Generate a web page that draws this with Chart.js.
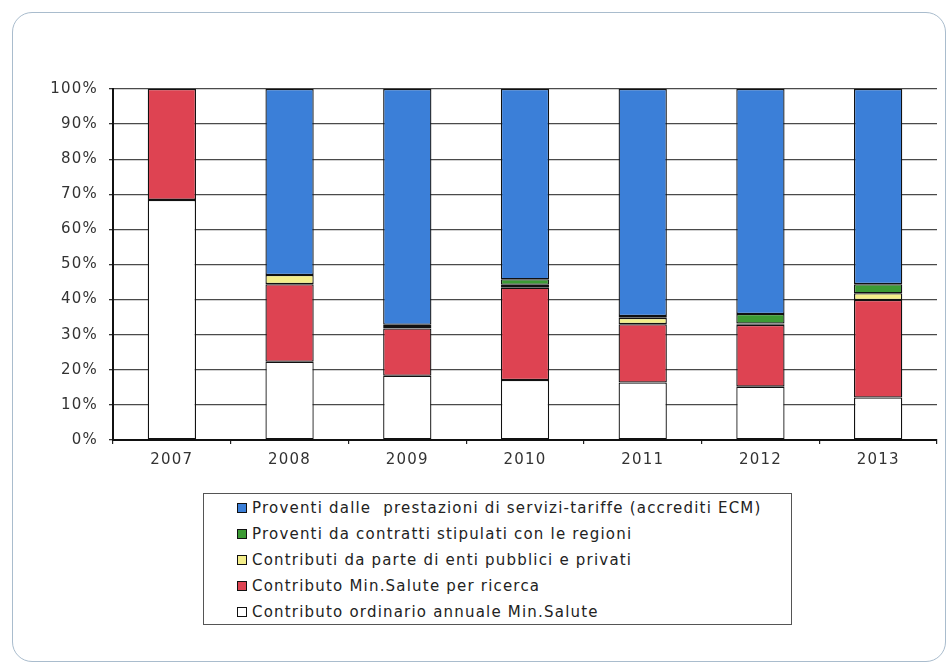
<!DOCTYPE html>
<html lang="it">
<head>
<meta charset="utf-8">
<title>Composizione delle entrate 2007-2013</title>
<script src="https://cdn.jsdelivr.net/npm/chart.js@4.4.1/dist/chart.umd.min.js"></script>
<style>
    html, body { margin: 0; padding: 0; background: #fff; }
    body { width: 951px; height: 667px; position: relative; overflow: hidden; font-family: "DejaVu Sans", Verdana, sans-serif; }
    #frame {
        position: absolute; left: 12px; top: 12px; width: 934px; height: 650px;
        border: 1px solid #a9bccd; border-radius: 20px; box-sizing: border-box;
    }
    #chartBox { position: absolute; left: 0; top: 0; width: 951px; height: 480px; }
    #legend {
        position: absolute; left: 203px; top: 493px; width: 589px; height: 132px;
        border: 1.5px solid #555; box-sizing: border-box; padding-top: 1px;
    }
    #legend ul { list-style: none; margin: 0; padding: 0; }
    #legend li {
        height: 26px; display: flex; align-items: center; padding-left: 33px;
        font-size: 15px; letter-spacing: 1.2px; color: #222; white-space: pre;
    }
    #legend .sw {
        width: 8px; height: 8px; border: 1.5px solid #111; margin-right: 5px; flex: none;
    }
</style>
</head>
<body>
<div id="frame"></div>
<div id="chartBox"><canvas id="chartEntrate"></canvas></div>
<div id="legend"></div>

<script>
// ===== Dati (percentuali) =====
const anni = ['2007', '2008', '2009', '2010', '2011', '2012', '2013'];

const contributoOrdinario = [68.4, 22.3, 18.3, 17.1, 16.4, 15.2, 12.1];
const contributoRicerca   = [31.6, 22.1, 13.5, 26.3, 16.6, 17.6, 27.8];
const contributiEnti      = [0, 2.6, 0.4, 0.8, 1.8, 0.4, 1.9];
const proventiRegioni     = [0, 0, 0.6, 1.6, 0.5, 2.7, 2.6];
const proventiTariffe     = [0, 53.0, 67.2, 54.2, 64.7, 64.1, 55.6];

const yTicks = [0, 10, 20, 30, 40, 50, 60, 70, 80, 90, 100];

// ===== Avvio =====
document.addEventListener('DOMContentLoaded', function() {
    const chart = initChart();
    buildLegend(chart);
});

// testo un po' più largo, come nell'originale
const wideText = {
    id: 'wideText',
    beforeDraw(chart) { chart.ctx.letterSpacing = '1.2px'; }
};

function initChart() {
    const ctx = document.getElementById('chartEntrate').getContext('2d');
    const font = { family: '"DejaVu Sans", Verdana, sans-serif', size: 15 };

    // dal basso verso l'alto
    const datasets = [
        { label: 'Contributo ordinario annuale Min.Salute', data: contributoOrdinario, backgroundColor: '#ffffff' },
        { label: 'Contributo Min.Salute per ricerca', data: contributoRicerca, backgroundColor: '#de4352' },
        { label: 'Contributi da parte di enti pubblici e privati', data: contributiEnti, backgroundColor: '#f4ee8a' },
        { label: 'Proventi da contratti stipulati con le regioni', data: proventiRegioni, backgroundColor: '#3c9a34' },
        { label: 'Proventi dalle  prestazioni di servizi-tariffe (accrediti ECM)', data: proventiTariffe, backgroundColor: '#3b7fd8' }
    ].map(ds => Object.assign(ds, {
        borderColor: '#111',
        borderWidth: 1.3,
        borderSkipped: false,
        categoryPercentage: 1,
        barPercentage: 0.41
    }));

    return new Chart(ctx, {
        type: 'bar',
        data: { labels: anni, datasets: datasets },
        plugins: [wideText],
        options: {
            responsive: true,
            maintainAspectRatio: false,
            animation: false,
            layout: { padding: { top: 89, right: 14, left: 0, bottom: 0 } },
            plugins: {
                legend: { display: false },
                tooltip: { enabled: false }
            },
            scales: {
                x: {
                    stacked: true,
                    afterFit: scale => { scale.height = 40; },
                    grid: {
                        offset: true,
                        drawOnChartArea: true,
                        // solo il bordo destro dell'area del grafico
                        color: c => c.index === anni.length ? '#a0a0a0' : 'rgba(0,0,0,0)',
                        tickColor: '#222',
                        tickLength: 4,
                        lineWidth: 1.2
                    },
                    border: { color: '#111', width: 2 },
                    ticks: { font: font, color: '#333', padding: 7 }
                },
                y: {
                    stacked: true,
                    min: 0,
                    max: 100,
                    afterFit: scale => { scale.width = 113; },
                    afterBuildTicks: scale => { scale.ticks = yTicks.map(v => ({ value: v })); },
                    grid: { color: '#4a4a4a', lineWidth: 1.3, tickLength: 4, tickColor: '#333' },
                    border: { color: '#111', width: 2 },
                    ticks: {
                        font: font,
                        color: '#333',
                        padding: 11,
                        callback: v => v + '%'
                    }
                }
            }
        }
    });
}

// ===== Legenda HTML (stesso ordine del riferimento: dall'alto) =====
function buildLegend(chart) {
    const box = document.getElementById('legend');
    const ul = document.createElement('ul');
    chart.data.datasets.slice().reverse().forEach(ds => {
        const li = document.createElement('li');
        const sw = document.createElement('span');
        sw.className = 'sw';
        sw.style.background = ds.backgroundColor;
        li.appendChild(sw);
        li.appendChild(document.createTextNode(ds.label));
        ul.appendChild(li);
    });
    box.appendChild(ul);
}
</script>
</body>
</html>
